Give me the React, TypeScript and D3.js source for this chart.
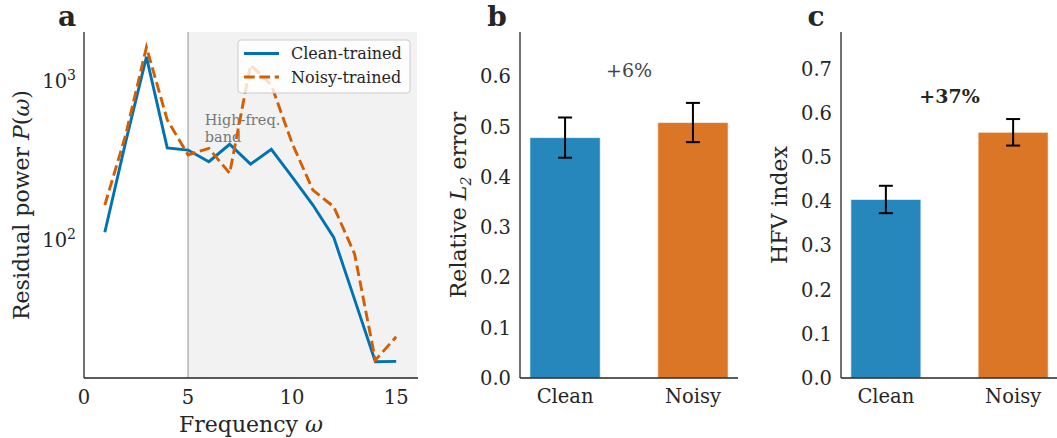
import React from "react";
import * as d3 from "d3";

// panel a: residual power spectrum
const freqs = [1, 2, 3, 4, 5, 6, 7, 8, 9, 10, 11, 12, 13, 14, 15];
const cleanPower = [112, 413, 1416, 380, 368, 311, 400, 300, 372, 250, 166, 104, 42.4, 17.2, 17.3];
const noisyPower = [166, 457, 1630, 569, 343, 377, 263, 1260, 944, 406, 206, 162, 82, 17.6, 24.7];
const xTicksA = [0, 5, 10, 15];
const yTicksA = [100, 1000];

// panels b & c: bars
const groups = ["Clean", "Noisy"];
const l2Mean = [0.478, 0.508];
const l2Err = [0.04, 0.039];
const hfvMean = [0.404, 0.556];
const hfvErr = [0.031, 0.03];
const yTicksB = [0, 0.1, 0.2, 0.3, 0.4, 0.5, 0.6];
const yTicksC = [0, 0.1, 0.2, 0.3, 0.4, 0.5, 0.6, 0.7];

const BLUE = "#0072B2";
const ORANGE = "#D55E00";
const INK = "#262626";
const FONT = "'DejaVu Serif', serif";
const TICK = 19.5;
const LABEL = 22;
const LW = 2.9;
const DASH = `${3.7 * LW},${1.6 * LW}`;

const W = 1057;
const H = 438;
const TOP = 32;
const BOTTOM = 378;

function PanelA() {
  const x = d3.scaleLinear().domain([0, 16]).range([84, 417]);
  const y = d3.scaleLog().domain([13.6, 2030]).range([BOTTOM, TOP]);
  const line = d3
    .line<number>()
    .x((d, i) => x(freqs[i]))
    .y((d) => y(d));

  return (
    <g>
      <rect x={x(5)} y={TOP} width={x(16) - x(5)} height={BOTTOM - TOP} fill="#f2f2f2" />
      <line x1={x(5)} x2={x(5)} y1={TOP} y2={BOTTOM} stroke="#b3b3b3" strokeWidth={1.5} />
      <text x={x(5.8)} y={125} fontSize={14.5} fill="#777">
        High-freq.
      </text>
      <text x={x(5.8)} y={142} fontSize={14.5} fill="#777">
        band
      </text>
      <path d={line(cleanPower) || ""} fill="none" stroke={BLUE} strokeWidth={LW} />
      <path d={line(noisyPower) || ""} fill="none" stroke={ORANGE} strokeWidth={LW} strokeDasharray={DASH} />

      {/* legend */}
      <rect x={238} y={40} width={172} height={53} rx={3} fill="white" fillOpacity={0.8} stroke="#cccccc" strokeWidth={1} />
      <line x1={244} x2={279} y1={53.5} y2={53.5} stroke={BLUE} strokeWidth={LW} />
      <line x1={244} x2={279} y1={77} y2={77} stroke={ORANGE} strokeWidth={LW} strokeDasharray={DASH} />
      <text x={291} y={59} fontSize={16} fill={INK}>Clean-trained</text>
      <text x={291} y={82.5} fontSize={16} fill={INK}>Noisy-trained</text>

      {/* axes */}
      <line x1={84} x2={84} y1={TOP} y2={BOTTOM} stroke={INK} strokeWidth={1.3} />
      <line x1={84} x2={418} y1={BOTTOM} y2={BOTTOM} stroke={INK} strokeWidth={1.3} />
      {xTicksA.map((t) => (
        <text key={t} x={x(t)} y={404} fontSize={TICK} fill={INK} textAnchor="middle">
          {t}
        </text>
      ))}
      {yTicksA.map((t) => (
        <text key={t} x={76} y={y(t) + 7} fontSize={TICK} fill={INK} textAnchor="end">
          10
          <tspan dy={-8} fontSize={14}>
            {Math.round(Math.log10(t))}
          </tspan>
        </text>
      ))}
      <text x={251} y={432} fontSize={LABEL} fill={INK} textAnchor="middle">
        Frequency <tspan fontStyle="italic">ω</tspan>
      </text>
      <text
        transform={`translate(29,${(TOP + BOTTOM) / 2}) rotate(-90)`}
        fontSize={LABEL}
        fill={INK}
        textAnchor="middle"
      >
        Residual power <tspan fontStyle="italic">P</tspan>(<tspan fontStyle="italic">ω</tspan>)
      </text>
      <text x={67} y={26} fontSize={28} fontWeight="bold" fill={INK} textAnchor="middle">
        a
      </text>
    </g>
  );
}

type BarProps = {
  left: number;
  right: number;
  ymax: number;
  means: number[];
  errs: number[];
  ticks: number[];
  letter: string;
  letterX: number;
  labelX: number;
  label: React.ReactNode;
  note: string;
  noteY: number;
  noteBold: boolean;
};

function BarPanel(p: BarProps) {
  const x = d3.scaleLinear().domain([-0.3525, 1.3525]).range([p.left, p.right]);
  const y = d3.scaleLinear().domain([0, p.ymax]).range([BOTTOM, TOP]);
  const bw = x(0.55) - x(0);
  const colors = [BLUE, ORANGE];
  const cap = 7;

  return (
    <g>
      {p.means.map((m, i) => (
        <rect
          key={i}
          x={x(i) - bw / 2}
          y={y(m)}
          width={bw}
          height={y(0) - y(m)}
          fill={colors[i]}
          fillOpacity={0.85}
          stroke="white"
          strokeOpacity={0.6}
          strokeWidth={1}
        />
      ))}
      {p.means.map((m, i) => (
        <g key={i} stroke="black" strokeWidth={2}>
          <line x1={x(i)} x2={x(i)} y1={y(m + p.errs[i])} y2={y(m - p.errs[i])} />
          <line x1={x(i) - cap} x2={x(i) + cap} y1={y(m + p.errs[i])} y2={y(m + p.errs[i])} />
          <line x1={x(i) - cap} x2={x(i) + cap} y1={y(m - p.errs[i])} y2={y(m - p.errs[i])} />
        </g>
      ))}
      <line x1={p.left} x2={p.left} y1={TOP} y2={BOTTOM} stroke={INK} strokeWidth={1.3} />
      <line x1={p.left} x2={p.right} y1={BOTTOM} y2={BOTTOM} stroke={INK} strokeWidth={1.3} />
      {p.ticks.map((t) => (
        <text key={t} x={p.left - 9} y={y(t) + 7} fontSize={TICK} fill={INK} textAnchor="end">
          {t.toFixed(1)}
        </text>
      ))}
      {groups.map((g, i) => (
        <text key={g} x={x(i)} y={403} fontSize={TICK} fill={INK} textAnchor="middle">
          {g}
        </text>
      ))}
      <text
        transform={`translate(${p.labelX},${(TOP + BOTTOM) / 2}) rotate(-90)`}
        fontSize={LABEL}
        fill={INK}
        textAnchor="middle"
      >
        {p.label}
      </text>
      <text
        x={x(0.5)}
        y={p.noteY}
        fontSize={19}
        fontWeight={p.noteBold ? "bold" : "normal"}
        fill={p.noteBold ? INK : "#444"}
        textAnchor="middle"
      >
        {p.note}
      </text>
      <text x={p.letterX} y={26} fontSize={28} fontWeight="bold" fill={INK} textAnchor="middle">
        {p.letter}
      </text>
    </g>
  );
}

export default function App() {
  return (
    <svg width={W} height={H} style={{ display: "block", position: "absolute", left: 0, top: 0 }} fontFamily={FONT}>
      <rect width={W} height={H} fill="white" />
      <PanelA />
      <BarPanel
        left={520}
        right={738}
        ymax={0.688}
        means={l2Mean}
        errs={l2Err}
        ticks={yTicksB}
        letter="b"
        letterX={497}
        labelX={466}
        label={
          <>
            Relative <tspan fontStyle="italic">L</tspan>
            <tspan fontStyle="italic" fontSize={14} dy={5}>2</tspan>
            <tspan dy={-5}> error</tspan>
          </>
        }
        note="+6%"
        noteY={77}
        noteBold={false}
      />
      <BarPanel
        left={841}
        right={1058}
        ymax={0.783}
        means={hfvMean}
        errs={hfvErr}
        ticks={yTicksC}
        letter="c"
        letterX={816}
        labelX={787}
        label="HFV index"
        note="+37%"
        noteY={103}
        noteBold={true}
      />
    </svg>
  );
}
